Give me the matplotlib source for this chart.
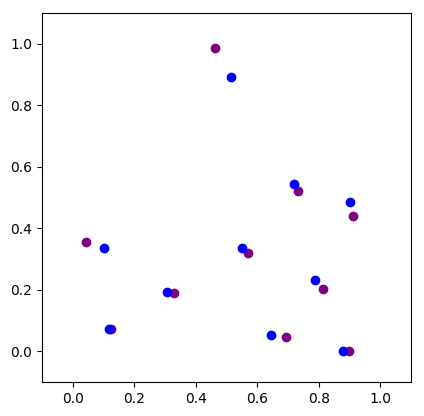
import matplotlib
matplotlib.use("Agg")
import matplotlib.pyplot as plt

blue_x = [0.516, 0.721, 0.903, 0.101, 0.549, 0.789, 0.308, 0.117, 0.646, 0.880]
blue_y = [0.892, 0.544, 0.485, 0.336, 0.336, 0.231, 0.192, 0.072, 0.052, 0.0]
purple_x = [0.464, 0.734, 0.912, 0.042, 0.571, 0.815, 0.328, 0.123, 0.692, 0.899]
purple_y = [0.987, 0.521, 0.440, 0.355, 0.319, 0.202, 0.189, 0.072, 0.046, 0.0]

fig = plt.figure(figsize=(4.24, 4.16), dpi=100)
ax = fig.add_axes([42/424, 34/416, 369/424, 369/416])
ax.scatter(purple_x, purple_y, color="purple")
ax.scatter(blue_x, blue_y, color="blue")
ax.set_xlim(-0.1, 1.1)
ax.set_ylim(-0.1, 1.1)
ax.set_xticks([0.0, 0.2, 0.4, 0.6, 0.8, 1.0])
ax.set_yticks([0.0, 0.2, 0.4, 0.6, 0.8, 1.0])
fig.savefig("out.png", dpi=100)
